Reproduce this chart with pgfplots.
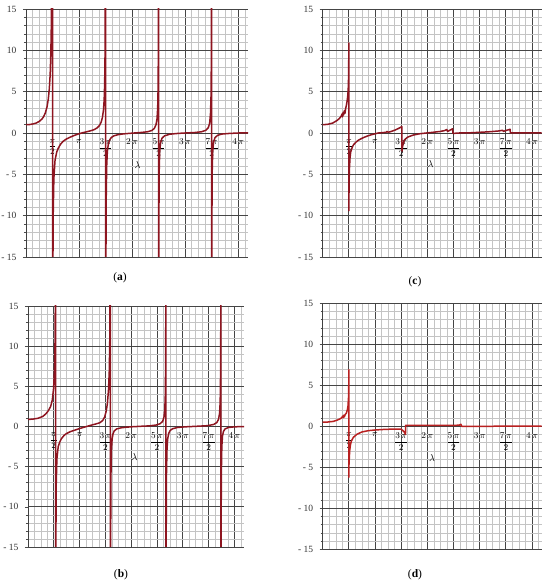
\documentclass[border=0pt]{standalone}
\usepackage{fontspec}
\setmainfont{Liberation Serif}
\usepackage{pgfplots}
\usepackage{pgfplotstable}
\pgfplotsset{compat=1.18}

\definecolor{curveDark}{HTML}{8E1520}
\definecolor{curveRed}{HTML}{B82020}
\definecolor{majGrid}{HTML}{454545}
\definecolor{minGrid}{HTML}{C4C4C4}

% panel (a): T_* against lambda
\pgfplotstableread{
x y
0 1.00
0.2 1.02
0.4 1.09
0.6 1.2
0.8 1.42
0.95 1.70
1.05 2.0
1.15 2.45
1.25 3.2
1.32 4.1
1.38 5.3
1.43 7.0
1.47 9.5
1.50 13
1.53 20
1.555 40
1.5708 40
1.5708 -40
1.585 -20
1.61 -10
1.65 -5.5
1.72 -3.3
1.82 -2.3
1.92 -1.8
2.05 -1.35
2.2 -1.0
2.4 -0.72
2.6 -0.52
2.85 -0.3
3.1 -0.12
3.35 0.03
3.6 0.15
3.85 0.28
4.05 0.42
4.2 0.6
4.35 0.9
4.45 1.3
4.53 1.9
4.59 2.8
4.63 4
4.66 6
4.685 10
4.70 20
4.7124 40
4.7124 -40
4.725 -20
4.75 -8
4.78 -4
4.82 -2.2
4.88 -1.3
4.95 -0.85
5.05 -0.55
5.2 -0.35
5.45 -0.2
5.8 -0.1
6.28 -0.02
6.8 0.06
7.2 0.15
7.45 0.3
7.6 0.55
7.7 1.0
7.76 1.7
7.8 3
7.825 5.5
7.84 10
7.85 20
7.854 40
7.854 -40
7.865 -15
7.885 -5
7.92 -2.2
7.97 -1.2
8.05 -0.65
8.2 -0.35
8.5 -0.15
9.0 -0.05
9.42 0
10.0 0.06
10.4 0.15
10.65 0.32
10.8 0.65
10.88 1.2
10.93 2.4
10.96 4.5
10.98 9
10.99 18
10.9956 40
10.9956 -40
11.005 -15
11.025 -5
11.06 -2.2
11.11 -1.1
11.2 -0.55
11.35 -0.28
11.6 -0.13
12.0 -0.06
12.57 0
13.2 0.03
}\dataA

% panel (b)
\pgfplotstableread{
x y
0 0.88
0.3 0.92
0.6 1.02
0.9 1.25
1.1 1.6
1.25 2.0
1.38 2.5
1.48 3.3
1.56 4.8
1.61 7
1.65 11
1.67 18
1.68 40
1.68 -40
1.695 -15
1.72 -7
1.76 -4
1.84 -2.5
1.94 -1.9
2.04 -1.5
2.2 -1.1
2.35 -0.87
2.6 -0.62
2.85 -0.45
3.1 -0.28
3.36 -0.12
3.6 0.02
3.86 0.17
4.1 0.3
4.37 0.46
4.55 0.75
4.67 1.2
4.76 1.9
4.83 2.8
4.9 4.5
4.95 7
4.98 11
5.0 18
5.02 40
5.02 -40
5.03 -15
5.05 -6
5.08 -3
5.12 -1.6
5.17 -0.95
5.25 -0.55
5.4 -0.3
5.7 -0.15
6.2 -0.05
6.8 0.02
7.4 0.08
7.8 0.18
8.05 0.35
8.2 0.65
8.28 1.2
8.33 2.2
8.36 4
8.38 8
8.39 15
8.40 40
8.40 -40
8.41 -15
8.43 -6
8.46 -3
8.5 -1.6
8.56 -0.9
8.65 -0.5
8.8 -0.28
9.1 -0.12
9.6 -0.04
10.2 0.02
10.9 0.1
11.3 0.25
11.5 0.5
11.6 0.9
11.66 1.6
11.7 3
11.72 6
11.735 12
11.745 40
11.745 -40
11.755 -15
11.77 -6
11.8 -2.5
11.84 -1.2
11.9 -0.6
12.0 -0.3
12.2 -0.12
12.6 -0.04
13.2 0
}\dataB

% panel (c)
\pgfplotstableread{
x y
0 1.0
0.3 1.05
0.6 1.2
0.85 1.5
1.0 1.75
1.1 2.0
1.16 2.3
1.19 1.95
1.23 2.5
1.26 2.2
1.3 2.7
1.34 2.4
1.38 3.0
1.42 3.3
1.46 3.8
1.5 4.4
1.53 5.2
1.55 6.5
1.565 9
1.5708 10.9
1.5708 -9.4
1.58 -7
1.6 -4.5
1.64 -3.0
1.68 -2.3
1.76 -1.8
1.84 -1.45
2.0 -1.1
2.14 -0.88
2.3 -0.7
2.44 -0.56
2.7 -0.35
2.94 -0.2
3.14 -0.1
3.34 0
3.6 0.05
3.8 0.08
3.88 0.2
3.93 0.08
4.1 0.18
4.34 0.35
4.55 0.55
4.7 0.7
4.75 0.78
4.76 -2.2
4.8 -1.6
4.9 -0.85
5.1 -0.5
5.43 -0.25
5.8 -0.1
6.23 0
6.6 0.08
7.03 0.18
7.3 0.28
7.45 0.42
7.5 0.18
7.6 0.3
7.75 0.45
7.80 0.52
7.82 -0.05
8.2 0.0
8.8 0.02
9.4 0.08
10.0 0.15
10.6 0.25
10.8 0.33
10.85 0.2
11.0 0.3
11.2 0.42
11.25 0.45
11.27 0.0
12.0 0.02
13.2 0.03
}\dataC

% panel (d): u_*
\pgfplotstableread{
x y
0 0.5
0.3 0.52
0.64 0.6
0.9 0.78
1.03 0.9
1.15 1.05
1.2 1.25
1.23 1.05
1.27 1.35
1.3 1.15
1.35 1.45
1.42 1.6
1.48 2.0
1.52 2.5
1.55 3.5
1.565 5
1.5708 6.9
1.5708 -6.2
1.58 -4.5
1.62 -3.0
1.67 -2.2
1.72 -1.8
1.84 -1.35
2.05 -0.98
2.34 -0.7
2.74 -0.53
3.14 -0.45
3.77 -0.37
4.55 -0.33
4.72 -0.36
4.8 -0.5
4.9 -0.7
4.97 -1.0
4.98 0.12
5.5 0.12
6.5 0.12
7.5 0.12
8.2 0.13
8.3 0.25
8.34 0.0
9.0 0.0
13.2 0.02
}\dataD

\pgfplotsset{
  maple/.style={
    scale only axis, anchor=south west,
    xmin=0, xmax=13.15, ymin=-15, ymax=15,
    axis x line=middle, axis y line=left,
    x axis line style={-, draw=black!75, line width=0.9pt},
    y axis line style={-, draw=black!75, line width=0.9pt},
    xtick={1.5708,3.1416,4.7124,6.2832,7.854,9.4248,10.9956,12.5664},
    xticklabels={$\displaystyle\frac{\pi}{2}$, $\pi$, $\displaystyle\frac{3\,\pi}{2}$, $2\,\pi$,
      $\displaystyle\frac{5\,\pi}{2}$, $3\,\pi$, $\displaystyle\frac{7\,\pi}{2}$, $4\,\pi$},
    minor xtick={0.3927,0.7854,1.1781,1.9635,2.3562,2.7489,3.5343,3.927,4.3197,
      5.1051,5.4978,5.8905,6.6759,7.0686,7.4613,8.2467,8.6394,9.0321,9.8175,10.2102,
      10.6029,11.3883,11.781,12.1737,12.9591},
    ytick={-15,-10,-5,0,5,10,15},
    yticklabels={{- 15},{- 10},{- 5},0,5,10,15},
    minor ytick={-14,-13,-12,-11,-9,-8,-7,-6,-4,-3,-2,-1,1,2,3,4,6,7,8,9,11,12,13,14},
    grid=both,
    major grid style={draw=majGrid, line width=0.9pt},
    minor grid style={draw=minGrid, line width=0.5pt},
    x tick style={draw=none},
    y tick style={draw=black!70, line width=0.5pt},
    tick align=outside, major tick length=3pt, minor tick length=2pt,
    xticklabel style={font=\fontsize{9}{10}\selectfont, anchor=north, yshift=-2pt, inner sep=1pt},
    yticklabel style={font=\fontsize{9.5}{10}\selectfont, text=black!80, xshift=-3pt},
  },
  curve/.style={line width=1.5pt, no markers, line join=round},
}
\tikzset{lab/.style={font=\fontsize{10}{11}\selectfont}}

\begin{document}
\begin{tikzpicture}[x=1pt, y=1pt]
\useasboundingbox (0,0) rectangle (550,587);

% (a)
\begin{axis}[maple, at={(26pt,330pt)}, width=222pt, height=248pt]
\addplot[curve, draw=curveDark] table[x=x, y=y] {\dataA};
\node[lab, anchor=east] at (axis cs:0,8.7) [xshift=-7pt] {$T_{*}$};
\node[lab] at (axis cs:6.6,-3.9) {$\lambda$};
\end{axis}

% (c)
\begin{axis}[maple, at={(322.7pt,330pt)}, width=219pt, height=248pt]
\addplot[curve, draw=curveDark] table[x=x, y=y] {\dataC};
\node[lab, anchor=east] at (axis cs:0,8.5) [xshift=-19pt] {$T_{*}$};
\node[lab] at (axis cs:6.47,-3.8) {$\lambda$};
\end{axis}

% (b)
\begin{axis}[maple, at={(28pt,40pt)}, width=216pt, height=241pt]
\addplot[curve, draw=curveDark] table[x=x, y=y] {\dataB};
\node[lab, anchor=east] at (axis cs:0,7.9) [xshift=-7pt] {$T_{*}$};
\node[lab] at (axis cs:6.49,-3.77) {$\lambda$};
\end{axis}

% (d)
\begin{axis}[maple, at={(322.7pt,37.7pt)}, width=219pt, height=246pt]
\addplot[curve, draw=curveRed] table[x=x, y=y] {\dataD};
\node[lab, anchor=east] at (axis cs:0,8.1) [xshift=-16pt] {$u_{*}$};
\node[lab] at (axis cs:6.56,-3.9) {$\lambda$};
\end{axis}

\node[font=\fontsize{11.5}{13}\selectfont] at (120,309) {(\textbf{a})};
\node[font=\fontsize{11.5}{13}\selectfont] at (415,305) {(\textbf{c})};
\node[font=\fontsize{11.5}{13}\selectfont] at (121,12) {(\textbf{b})};
\node[font=\fontsize{11.5}{13}\selectfont] at (415,12) {(\textbf{d})};
\end{tikzpicture}
\end{document}
